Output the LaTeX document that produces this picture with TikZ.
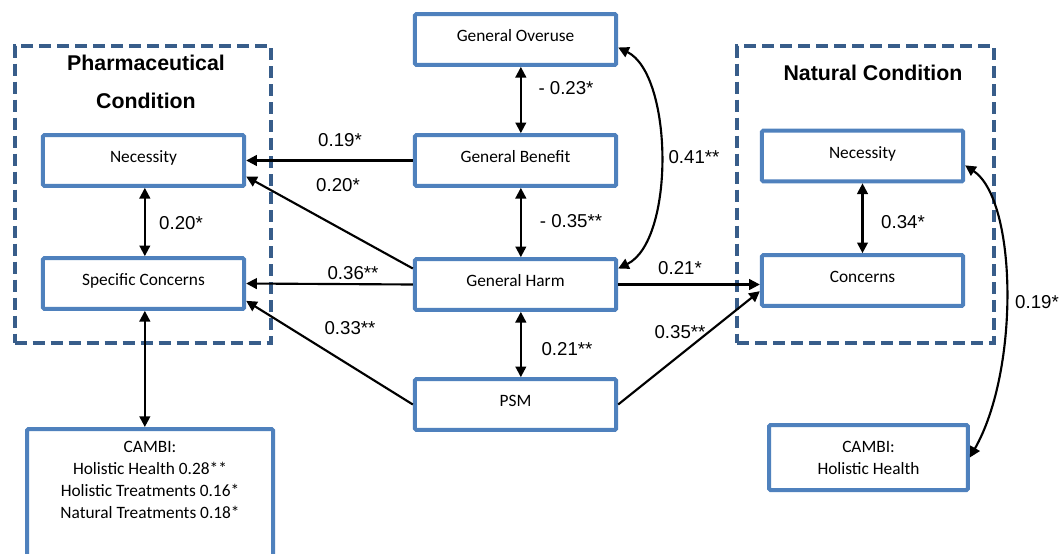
\documentclass[tikz,border=0pt]{standalone}
\usepackage{fontspec}
\newfontfamily\boxfont{Carlito}
\newfontfamily\numfont{Liberation Sans}
\usetikzlibrary{arrows.meta}
\definecolor{boxblue}{RGB}{79,129,189}
\definecolor{condblue}{RGB}{56,93,138}

\begin{document}
\begin{tikzpicture}[x=0.75pt, y=-0.75pt,
    box/.style={draw=boxblue, line width=3pt, fill=white, rounded corners=1pt, minimum width=151pt, minimum height=38pt, font=\boxfont\fontsize{13}{16}\selectfont, text height=8pt, text depth=5pt},
    cambi/.style={draw=boxblue, line width=3pt, fill=white, rounded corners=1pt, font=\boxfont\fontsize{13}{16.5}\selectfont, align=center},
    condbox/.style={draw=condblue, line width=3pt, dash pattern=on 9pt off 4.5pt, minimum width=192.5pt, minimum height=222.75pt},
    title/.style={font=\numfont\bfseries\fontsize{16}{29}\selectfont, align=center},
    num/.style={font=\numfont\fontsize{14}{16}\selectfont, inner sep=0pt},
    arr/.style={-{Triangle[length=8pt, width=8pt]}, line width=1.6pt},
    dbl/.style={{Triangle[length=8pt, width=8pt]}-{Triangle[length=8pt, width=8pt]}, line width=1.6pt}]
        \clip (0,0) rectangle (1062,553);

        \node [condbox] (F) at (143,194.5) {};
        \node [condbox] (G) at (865.5,194.5) {};
        \node [title] (T) at (146,82) {Pharmaceutical\\Condition};
        \node [title] (U) at (873,73) {Natural Condition};

        \node [box] (N) at (143.5,160.5) {Necessity};
        \node [box] (S) at (143.5,283.5) {Specific Concerns};
        \node [cambi, anchor=north, minimum width=184.5pt, inner ysep=9pt] (C) at (150,427) {CAMBI:\\Holistic Health 0.28**\\Holistic Treatments 0.16*\\Natural Treatments 0.18*\\\rule[-30pt]{0pt}{30pt}};

        \node [box] (O) at (515.5,39.5) {General Overuse};
        \node [box] (B) at (515.5,160.5) {General Benefit};
        \node [box] (H) at (515.5,284.5) {General Harm};
        \node [box] (P) at (515.5,404.5) {PSM};

        \node [box] (M) at (862.5,156) {Necessity};
        \node [box] (K) at (862.5,280.5) {Concerns};
        \node [cambi, minimum width=149pt, minimum height=48.75pt] (D) at (868.5,457.5) {CAMBI:\\Holistic Health};

        \draw [dbl] ([xshift=4pt]O.south) -- ([xshift=4pt]B.north); \draw [dbl] ([xshift=4pt]B.south) -- ([xshift=4pt]H.north);
        \draw [dbl] ([xshift=4pt]H.south) -- ([xshift=4pt]P.north);
        \draw [dbl] ([xshift=1pt]N.south) -- ([xshift=1pt]S.north); \draw [dbl] ([xshift=1pt]S.south) -- ([xshift=1pt]S.south |- C.north);
        \draw [dbl] (M.south) -- (K.north);

        \draw [arr] (B.west) -- (N.east); \draw [arr] ([yshift=12pt]H.west) -- ([yshift=-12pt]N.east);
        \draw [arr] (H.west) -- (S.east); \draw [arr] (P.west) -- ([yshift=-13pt]S.east);
        \draw [arr] (H.east) -- (H.east -| K.west); \draw [arr] (P.east) -- ([yshift=-8pt]K.west);

        \draw [dbl] ([yshift=-6pt]O.east) .. controls +(55,27) and +(57,-28) .. ([yshift=12pt]H.east);
        \draw [dbl] ([yshift=-7pt]M.east) .. controls +(52,35) and +(50,-88) .. (D.east);

        \node [num] (l1) at (340,140) {0.19*};
        \node [num] (l2) at (338,185) {0.20*};
        \node [num] (l3) at (353,273) {0.36**};
        \node [num] (l4) at (350,328) {0.33**};
        \node [num] (l5) at (181,223) {0.20*};
        \node [num] (l6) at (566,88) {- 0.23*};
        \node [num] (l7) at (571,221) {- 0.35**};
        \node [num] (l8) at (567,349) {0.21**};
        \node [num] (l9) at (694,157) {0.41**};
        \node [num] (l10) at (680,268) {0.21*};
        \node [num] (l11) at (680,332) {0.35**};
        \node [num] (l12) at (903,222) {0.34*};
        \node [num] (l13) at (1037,302) {0.19*};
    \end{tikzpicture}
\end{document}
